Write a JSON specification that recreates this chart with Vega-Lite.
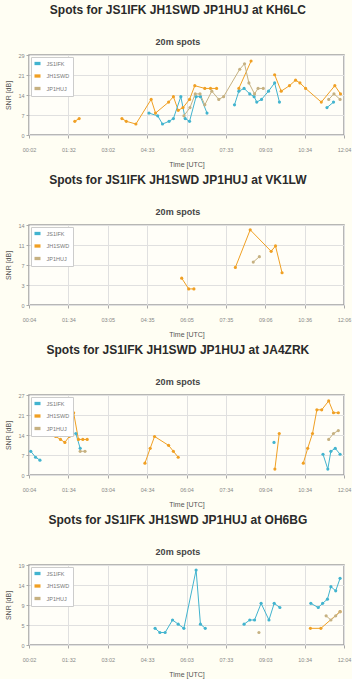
{
  "$schema": "https://vega.github.io/schema/vega-lite/v6.json",
  "background": "#fffef3",
  "padding": {"left": 4, "top": 3, "right": 0, "bottom": 0},
  "spacing": 4,
  "resolve": {"scale": {"color": "independent", "stroke": "independent"}, "legend": {"color": "independent", "stroke": "independent"}},
  "datasets": {
    "spots": [
      {"st":"KH6LC","op":"JH1SWD","g":1,"t":107,"snr":5},
      {"st":"KH6LC","op":"JH1SWD","g":1,"t":117,"snr":6},
      {"st":"KH6LC","op":"JH1SWD","g":2,"t":215,"snr":6},
      {"st":"KH6LC","op":"JH1SWD","g":2,"t":225,"snr":5},
      {"st":"KH6LC","op":"JH1SWD","g":2,"t":247,"snr":4},
      {"st":"KH6LC","op":"JH1SWD","g":2,"t":282,"snr":13},
      {"st":"KH6LC","op":"JH1SWD","g":2,"t":292,"snr":8},
      {"st":"KH6LC","op":"JH1SWD","g":2,"t":322,"snr":12},
      {"st":"KH6LC","op":"JH1SWD","g":2,"t":333,"snr":14},
      {"st":"KH6LC","op":"JH1SWD","g":2,"t":344,"snr":9},
      {"st":"KH6LC","op":"JH1SWD","g":2,"t":355,"snr":10},
      {"st":"KH6LC","op":"JH1SWD","g":2,"t":370,"snr":13},
      {"st":"KH6LC","op":"JH1SWD","g":2,"t":382,"snr":18},
      {"st":"KH6LC","op":"JH1SWD","g":2,"t":405,"snr":17},
      {"st":"KH6LC","op":"JH1SWD","g":2,"t":418,"snr":17},
      {"st":"KH6LC","op":"JH1SWD","g":2,"t":432,"snr":17},
      {"st":"KH6LC","op":"JH1SWD","g":3,"t":483,"snr":17},
      {"st":"KH6LC","op":"JH1SWD","g":3,"t":511,"snr":27},
      {"st":"KH6LC","op":"JH1SWD","g":4,"t":565,"snr":22},
      {"st":"KH6LC","op":"JH1SWD","g":4,"t":580,"snr":16},
      {"st":"KH6LC","op":"JH1SWD","g":4,"t":599,"snr":18},
      {"st":"KH6LC","op":"JH1SWD","g":4,"t":613,"snr":20},
      {"st":"KH6LC","op":"JH1SWD","g":4,"t":623,"snr":19},
      {"st":"KH6LC","op":"JH1SWD","g":4,"t":636,"snr":17},
      {"st":"KH6LC","op":"JH1SWD","g":4,"t":672,"snr":12},
      {"st":"KH6LC","op":"JH1SWD","g":4,"t":703,"snr":18},
      {"st":"KH6LC","op":"JH1SWD","g":4,"t":716,"snr":15},
      {"st":"KH6LC","op":"JS1IFK","g":1,"t":277,"snr":8},
      {"st":"KH6LC","op":"JS1IFK","g":1,"t":297,"snr":7},
      {"st":"KH6LC","op":"JS1IFK","g":1,"t":308,"snr":4},
      {"st":"KH6LC","op":"JS1IFK","g":1,"t":323,"snr":5},
      {"st":"KH6LC","op":"JS1IFK","g":1,"t":333,"snr":6},
      {"st":"KH6LC","op":"JS1IFK","g":1,"t":350,"snr":14},
      {"st":"KH6LC","op":"JS1IFK","g":1,"t":360,"snr":6},
      {"st":"KH6LC","op":"JS1IFK","g":1,"t":370,"snr":5},
      {"st":"KH6LC","op":"JS1IFK","g":1,"t":385,"snr":14},
      {"st":"KH6LC","op":"JS1IFK","g":1,"t":395,"snr":14},
      {"st":"KH6LC","op":"JS1IFK","g":1,"t":410,"snr":8},
      {"st":"KH6LC","op":"JS1IFK","g":2,"t":473,"snr":11},
      {"st":"KH6LC","op":"JS1IFK","g":2,"t":483,"snr":16},
      {"st":"KH6LC","op":"JS1IFK","g":2,"t":495,"snr":17},
      {"st":"KH6LC","op":"JS1IFK","g":2,"t":508,"snr":15},
      {"st":"KH6LC","op":"JS1IFK","g":2,"t":518,"snr":14},
      {"st":"KH6LC","op":"JS1IFK","g":2,"t":524,"snr":12},
      {"st":"KH6LC","op":"JS1IFK","g":2,"t":535,"snr":13},
      {"st":"KH6LC","op":"JS1IFK","g":2,"t":551,"snr":16},
      {"st":"KH6LC","op":"JS1IFK","g":2,"t":565,"snr":19},
      {"st":"KH6LC","op":"JS1IFK","g":2,"t":576,"snr":12},
      {"st":"KH6LC","op":"JS1IFK","g":3,"t":685,"snr":10},
      {"st":"KH6LC","op":"JS1IFK","g":3,"t":700,"snr":12},
      {"st":"KH6LC","op":"JP1HUJ","g":1,"t":357,"snr":7},
      {"st":"KH6LC","op":"JP1HUJ","g":1,"t":371,"snr":10},
      {"st":"KH6LC","op":"JP1HUJ","g":1,"t":383,"snr":15},
      {"st":"KH6LC","op":"JP1HUJ","g":1,"t":394,"snr":15},
      {"st":"KH6LC","op":"JP1HUJ","g":1,"t":405,"snr":11},
      {"st":"KH6LC","op":"JP1HUJ","g":1,"t":421,"snr":16},
      {"st":"KH6LC","op":"JP1HUJ","g":1,"t":437,"snr":13},
      {"st":"KH6LC","op":"JP1HUJ","g":1,"t":448,"snr":14},
      {"st":"KH6LC","op":"JP1HUJ","g":1,"t":485,"snr":24},
      {"st":"KH6LC","op":"JP1HUJ","g":1,"t":496,"snr":26},
      {"st":"KH6LC","op":"JP1HUJ","g":1,"t":506,"snr":19},
      {"st":"KH6LC","op":"JP1HUJ","g":1,"t":519,"snr":15},
      {"st":"KH6LC","op":"JP1HUJ","g":1,"t":527,"snr":17},
      {"st":"KH6LC","op":"JP1HUJ","g":1,"t":539,"snr":17},
      {"st":"KH6LC","op":"JP1HUJ","g":2,"t":689,"snr":13},
      {"st":"KH6LC","op":"JP1HUJ","g":2,"t":701,"snr":15},
      {"st":"KH6LC","op":"JP1HUJ","g":2,"t":715,"snr":13},

      {"st":"VK1LW","op":"JH1SWD","g":1,"t":354,"snr":5},
      {"st":"VK1LW","op":"JH1SWD","g":1,"t":370,"snr":3},
      {"st":"VK1LW","op":"JH1SWD","g":1,"t":382,"snr":3},
      {"st":"VK1LW","op":"JH1SWD","g":2,"t":477,"snr":7},
      {"st":"VK1LW","op":"JH1SWD","g":2,"t":511,"snr":14},
      {"st":"VK1LW","op":"JH1SWD","g":2,"t":559,"snr":10},
      {"st":"VK1LW","op":"JH1SWD","g":2,"t":569,"snr":11},
      {"st":"VK1LW","op":"JH1SWD","g":2,"t":584,"snr":6},
      {"st":"VK1LW","op":"JP1HUJ","g":1,"t":518,"snr":8},
      {"st":"VK1LW","op":"JP1HUJ","g":1,"t":532,"snr":9},

      {"st":"JA4ZRK","op":"JS1IFK","g":1,"t":8,"snr":8},
      {"st":"JA4ZRK","op":"JS1IFK","g":1,"t":19,"snr":6},
      {"st":"JA4ZRK","op":"JS1IFK","g":1,"t":29,"snr":5},
      {"st":"JA4ZRK","op":"JS1IFK","g":2,"t":111,"snr":14},
      {"st":"JA4ZRK","op":"JS1IFK","g":2,"t":121,"snr":9},
      {"st":"JA4ZRK","op":"JS1IFK","g":3,"t":564,"snr":11},
      {"st":"JA4ZRK","op":"JS1IFK","g":4,"t":676,"snr":7},
      {"st":"JA4ZRK","op":"JS1IFK","g":4,"t":687,"snr":2},
      {"st":"JA4ZRK","op":"JS1IFK","g":4,"t":694,"snr":8},
      {"st":"JA4ZRK","op":"JS1IFK","g":4,"t":704,"snr":9},
      {"st":"JA4ZRK","op":"JS1IFK","g":4,"t":715,"snr":7},
      {"st":"JA4ZRK","op":"JH1SWD","g":1,"t":35,"snr":14},
      {"st":"JA4ZRK","op":"JH1SWD","g":1,"t":65,"snr":13},
      {"st":"JA4ZRK","op":"JH1SWD","g":1,"t":76,"snr":12},
      {"st":"JA4ZRK","op":"JH1SWD","g":1,"t":86,"snr":11},
      {"st":"JA4ZRK","op":"JH1SWD","g":1,"t":96,"snr":13},
      {"st":"JA4ZRK","op":"JH1SWD","g":1,"t":106,"snr":21},
      {"st":"JA4ZRK","op":"JH1SWD","g":1,"t":117,"snr":12},
      {"st":"JA4ZRK","op":"JH1SWD","g":1,"t":127,"snr":12},
      {"st":"JA4ZRK","op":"JH1SWD","g":1,"t":137,"snr":12},
      {"st":"JA4ZRK","op":"JH1SWD","g":2,"t":269,"snr":4},
      {"st":"JA4ZRK","op":"JH1SWD","g":2,"t":281,"snr":9},
      {"st":"JA4ZRK","op":"JH1SWD","g":2,"t":291,"snr":13},
      {"st":"JA4ZRK","op":"JH1SWD","g":2,"t":323,"snr":10},
      {"st":"JA4ZRK","op":"JH1SWD","g":2,"t":334,"snr":8},
      {"st":"JA4ZRK","op":"JH1SWD","g":2,"t":345,"snr":6},
      {"st":"JA4ZRK","op":"JH1SWD","g":3,"t":566,"snr":2},
      {"st":"JA4ZRK","op":"JH1SWD","g":3,"t":576,"snr":14},
      {"st":"JA4ZRK","op":"JH1SWD","g":4,"t":631,"snr":4},
      {"st":"JA4ZRK","op":"JH1SWD","g":4,"t":641,"snr":9},
      {"st":"JA4ZRK","op":"JH1SWD","g":4,"t":652,"snr":14},
      {"st":"JA4ZRK","op":"JH1SWD","g":4,"t":662,"snr":22},
      {"st":"JA4ZRK","op":"JH1SWD","g":4,"t":673,"snr":22},
      {"st":"JA4ZRK","op":"JH1SWD","g":4,"t":689,"snr":25},
      {"st":"JA4ZRK","op":"JH1SWD","g":4,"t":700,"snr":21},
      {"st":"JA4ZRK","op":"JH1SWD","g":4,"t":711,"snr":21},
      {"st":"JA4ZRK","op":"JP1HUJ","g":1,"t":121,"snr":8},
      {"st":"JA4ZRK","op":"JP1HUJ","g":1,"t":132,"snr":8},
      {"st":"JA4ZRK","op":"JP1HUJ","g":2,"t":689,"snr":12},
      {"st":"JA4ZRK","op":"JP1HUJ","g":2,"t":700,"snr":14},
      {"st":"JA4ZRK","op":"JP1HUJ","g":2,"t":711,"snr":15},

      {"st":"OH6BG","op":"JS1IFK","g":1,"t":291,"snr":4},
      {"st":"OH6BG","op":"JS1IFK","g":1,"t":302,"snr":3},
      {"st":"OH6BG","op":"JS1IFK","g":1,"t":314,"snr":3},
      {"st":"OH6BG","op":"JS1IFK","g":1,"t":331,"snr":6},
      {"st":"OH6BG","op":"JS1IFK","g":1,"t":344,"snr":5},
      {"st":"OH6BG","op":"JS1IFK","g":1,"t":357,"snr":4},
      {"st":"OH6BG","op":"JS1IFK","g":1,"t":385,"snr":18},
      {"st":"OH6BG","op":"JS1IFK","g":1,"t":395,"snr":5},
      {"st":"OH6BG","op":"JS1IFK","g":1,"t":406,"snr":4},
      {"st":"OH6BG","op":"JS1IFK","g":2,"t":495,"snr":5},
      {"st":"OH6BG","op":"JS1IFK","g":2,"t":508,"snr":6},
      {"st":"OH6BG","op":"JS1IFK","g":2,"t":519,"snr":6},
      {"st":"OH6BG","op":"JS1IFK","g":2,"t":534,"snr":10},
      {"st":"OH6BG","op":"JS1IFK","g":2,"t":552,"snr":6},
      {"st":"OH6BG","op":"JS1IFK","g":2,"t":564,"snr":10},
      {"st":"OH6BG","op":"JS1IFK","g":2,"t":577,"snr":9},
      {"st":"OH6BG","op":"JS1IFK","g":3,"t":648,"snr":10},
      {"st":"OH6BG","op":"JS1IFK","g":3,"t":665,"snr":9},
      {"st":"OH6BG","op":"JS1IFK","g":3,"t":675,"snr":10},
      {"st":"OH6BG","op":"JS1IFK","g":3,"t":686,"snr":11},
      {"st":"OH6BG","op":"JS1IFK","g":3,"t":694,"snr":14},
      {"st":"OH6BG","op":"JS1IFK","g":3,"t":705,"snr":13},
      {"st":"OH6BG","op":"JS1IFK","g":3,"t":715,"snr":16},
      {"st":"OH6BG","op":"JH1SWD","g":1,"t":647,"snr":4},
      {"st":"OH6BG","op":"JH1SWD","g":1,"t":671,"snr":4},
      {"st":"OH6BG","op":"JH1SWD","g":1,"t":715,"snr":8},
      {"st":"OH6BG","op":"JP1HUJ","g":1,"t":529,"snr":3},
      {"st":"OH6BG","op":"JP1HUJ","g":2,"t":683,"snr":7},
      {"st":"OH6BG","op":"JP1HUJ","g":2,"t":694,"snr":6},
      {"st":"OH6BG","op":"JP1HUJ","g":2,"t":705,"snr":7},
      {"st":"OH6BG","op":"JP1HUJ","g":2,"t":715,"snr":8}
    ]
  },
  "config": {
    "font": "Liberation Sans",
    "view": {"fill": "#fffef8", "stroke": "#a0a0a0", "strokeWidth": 1.5},
    "axis": {
      "gridColor": "#e0e0e0", "gridWidth": 1, "domain": false,
      "tickColor": "#aaaaaa", "tickSize": 3,
      "labelFontSize": 5.5, "labelColor": "#888888",
      "titleFontSize": 7, "titleColor": "#555555", "titleFontWeight": "normal",
      "labelOverlap": false, "labelFlush": false
    },
    "axisX": {"labelPadding": 9, "titlePadding": 8},
    "axisY": {"labelPadding": 2, "titlePadding": 6},
    "legend": {
      "orient": "top-left", "offset": 2, "title": null,
      "fillColor": "#ffffff", "strokeColor": "#cccccc", "padding": 3.5,
      "labelFontSize": 5.5, "labelColor": "#777777", "labelOffset": 6,
      "symbolType": "M-1,-0.55H1V0.55H-1Z", "symbolSize": 36,
      "symbolStrokeWidth": 0, "rowPadding": 5.5
    },
    "title": {
      "anchor": "middle", "frame": "bounds", "fontSize": 12, "fontWeight": "bold",
      "color": "#2a2a2a", "subtitleFontSize": 9, "subtitleFontWeight": "bold",
      "subtitleColor": "#444444", "subtitlePadding": 21, "offset": 5
    }
  },
  "vconcat": [
    {
      "title": {"text": "Spots for JS1IFK JH1SWD JP1HUJ at KH6LC", "subtitle": "20m spots"},
      "width": 315, "height": 80,
      "data": {"name": "spots"},
      "transform": [{"filter": "datum.st == 'KH6LC'"}],
      "encoding": {
        "x": {"field": "t", "type": "quantitative", "scale": {"domain": [2, 724], "nice": false, "zero": false},
          "axis": {"title": "Time [UTC]", "values": [2, 92.25, 182.5, 272.75, 363, 453.25, 543.5, 633.75, 724],
            "labelExpr": "['00:02','01:32','03:02','04:33','06:03','07:33','09:03','10:34','12:04'][round((datum.value-2)/90.25)]"}},
        "y": {"field": "snr", "type": "quantitative", "scale": {"domain": [0, 29.2], "nice": false},
          "axis": {"title": "SNR [dB]", "values": [0, 7.3, 14.6, 21.9, 29.2],
            "labelExpr": "['0','7','14','21','29'][round(datum.value/7.3)]"}}
      },
      "layer": [
        {"mark": {"type": "line", "strokeWidth": 1},
         "encoding": {"detail": {"field": "g"},
           "stroke": {"field": "op", "type": "nominal", "legend": null,
             "scale": {"domain": ["JP1HUJ", "JH1SWD", "JS1IFK"], "range": ["#c6b181", "#f0a024", "#42b4cf"]}}}},
        {"mark": {"type": "point", "filled": true, "size": 10, "opacity": 1},
         "encoding": {"color": {"field": "op", "type": "nominal",
             "legend": {"symbolType": "M-1,-0.55H1V0.55H-1Z"},
             "scale": {"domain": ["JS1IFK", "JH1SWD", "JP1HUJ"], "range": ["#42b4cf", "#f0a024", "#c6b181"]}}}}
      ]
    },
    {
      "title": {"text": "Spots for JS1IFK JH1SWD JP1HUJ at VK1LW", "subtitle": "20m spots"},
      "width": 315, "height": 80,
      "data": {"name": "spots"},
      "transform": [{"filter": "datum.st == 'VK1LW'"}],
      "encoding": {
        "x": {"field": "t", "type": "quantitative", "scale": {"domain": [4, 726], "nice": false, "zero": false},
          "axis": {"title": "Time [UTC]", "values": [4, 94.25, 184.5, 274.75, 365, 455.25, 545.5, 635.75, 726],
            "labelExpr": "['00:04','01:34','03:05','04:35','06:05','07:35','09:06','10:36','12:06'][round((datum.value-4)/90.25)]"}},
        "y": {"field": "snr", "type": "quantitative", "scale": {"domain": [0, 14.9], "nice": false},
          "axis": {"title": "SNR [dB]", "values": [0, 3.725, 7.45, 11.175, 14.9],
            "labelExpr": "['0','3','7','11','14'][round(datum.value/3.725)]"}}
      },
      "layer": [
        {"mark": {"type": "line", "strokeWidth": 1},
         "encoding": {"detail": {"field": "g"},
           "stroke": {"field": "op", "type": "nominal", "legend": null,
             "scale": {"domain": ["JP1HUJ", "JH1SWD", "JS1IFK"], "range": ["#c6b181", "#f0a024", "#42b4cf"]}}}},
        {"mark": {"type": "point", "filled": true, "size": 10, "opacity": 1},
         "encoding": {"color": {"field": "op", "type": "nominal",
             "legend": {"symbolType": "M-1,-0.55H1V0.55H-1Z"},
             "scale": {"domain": ["JS1IFK", "JH1SWD", "JP1HUJ"], "range": ["#42b4cf", "#f0a024", "#c6b181"]}}}}
      ]
    },
    {
      "title": {"text": "Spots for JS1IFK JH1SWD JP1HUJ at JA4ZRK", "subtitle": "20m spots"},
      "width": 315, "height": 80,
      "data": {"name": "spots"},
      "transform": [{"filter": "datum.st == 'JA4ZRK'"}],
      "encoding": {
        "x": {"field": "t", "type": "quantitative", "scale": {"domain": [4, 724], "nice": false, "zero": false},
          "axis": {"title": "Time [UTC]", "values": [4, 94, 184, 274, 364, 454, 544, 634, 724],
            "labelExpr": "['00:04','01:34','03:04','04:34','06:04','07:34','09:04','10:34','12:04'][round((datum.value-4)/90)]"}},
        "y": {"field": "snr", "type": "quantitative", "scale": {"domain": [0, 27], "nice": false},
          "axis": {"title": "SNR [dB]", "values": [0, 6.75, 13.5, 20.25, 27],
            "labelExpr": "['0','7','14','21','27'][round(datum.value/6.75)]"}}
      },
      "layer": [
        {"mark": {"type": "line", "strokeWidth": 1},
         "encoding": {"detail": {"field": "g"},
           "stroke": {"field": "op", "type": "nominal", "legend": null,
             "scale": {"domain": ["JP1HUJ", "JH1SWD", "JS1IFK"], "range": ["#c6b181", "#f0a024", "#42b4cf"]}}}},
        {"mark": {"type": "point", "filled": true, "size": 10, "opacity": 1},
         "encoding": {"color": {"field": "op", "type": "nominal",
             "legend": {"symbolType": "M-1,-0.55H1V0.55H-1Z"},
             "scale": {"domain": ["JS1IFK", "JH1SWD", "JP1HUJ"], "range": ["#42b4cf", "#f0a024", "#c6b181"]}}}}
      ]
    },
    {
      "title": {"text": "Spots for JS1IFK JH1SWD JP1HUJ at OH6BG", "subtitle": "20m spots"},
      "width": 315, "height": 80,
      "data": {"name": "spots"},
      "transform": [{"filter": "datum.st == 'OH6BG'"}],
      "encoding": {
        "x": {"field": "t", "type": "quantitative", "scale": {"domain": [2, 724], "nice": false, "zero": false},
          "axis": {"title": "Time [UTC]", "values": [2, 92.25, 182.5, 272.75, 363, 453.25, 543.5, 633.75, 724],
            "labelExpr": "['00:02','01:32','03:02','04:33','06:03','07:33','09:03','10:34','12:04'][round((datum.value-2)/90.25)]"}},
        "y": {"field": "snr", "type": "quantitative", "scale": {"domain": [0, 19.2], "nice": false},
          "axis": {"title": "SNR [dB]", "values": [0, 4.8, 9.6, 14.4, 19.2],
            "labelExpr": "['0','5','9','14','19'][round(datum.value/4.8)]"}}
      },
      "layer": [
        {"mark": {"type": "line", "strokeWidth": 1},
         "encoding": {"detail": {"field": "g"},
           "stroke": {"field": "op", "type": "nominal", "legend": null,
             "scale": {"domain": ["JP1HUJ", "JH1SWD", "JS1IFK"], "range": ["#c6b181", "#f0a024", "#42b4cf"]}}}},
        {"mark": {"type": "point", "filled": true, "size": 10, "opacity": 1},
         "encoding": {"color": {"field": "op", "type": "nominal",
             "legend": {"symbolType": "M-1,-0.55H1V0.55H-1Z"},
             "scale": {"domain": ["JS1IFK", "JH1SWD", "JP1HUJ"], "range": ["#42b4cf", "#f0a024", "#c6b181"]}}}}
      ]
    }
  ]
}
